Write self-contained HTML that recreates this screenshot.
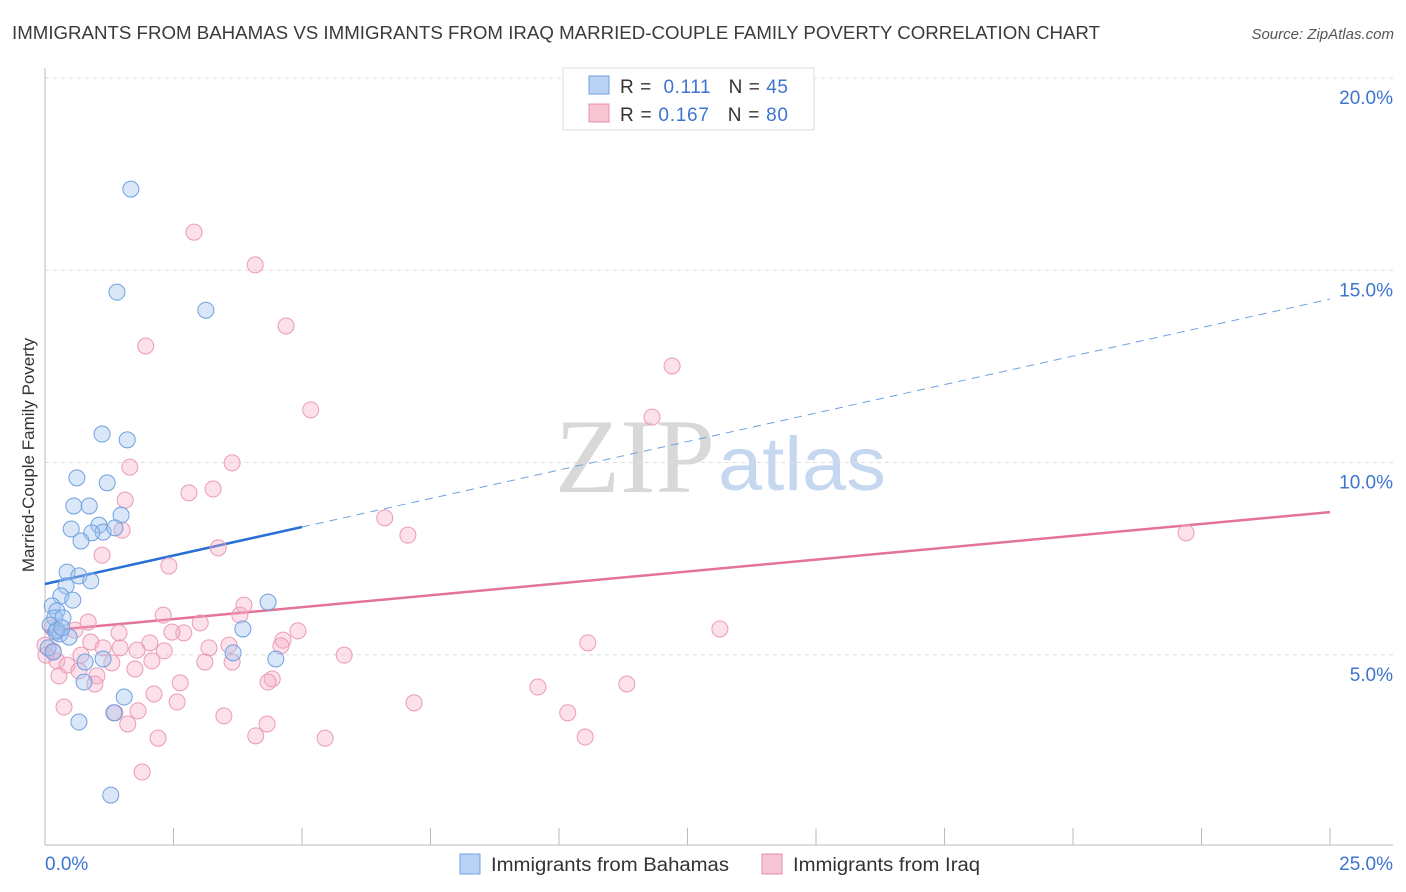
<!DOCTYPE html>
<html><head><meta charset="utf-8"><style>
body{margin:0;background:#fff;font-family:"Liberation Sans",sans-serif;}
svg{display:block}
</style></head><body>
<svg id="chart" width="1406" height="892" xmlns="http://www.w3.org/2000/svg">
<text x="12" y="39" font-size="18.5" fill="#3a3a3a" textLength="1088" lengthAdjust="spacingAndGlyphs">IMMIGRANTS FROM BAHAMAS VS IMMIGRANTS FROM IRAQ MARRIED-COUPLE FAMILY POVERTY CORRELATION CHART</text>
<text x="1394" y="39" font-size="15" fill="#555" font-style="italic" text-anchor="end">Source: ZipAtlas.com</text>
<g>
<text x="555" y="492" font-size="106" font-family="Liberation Serif,serif" fill="#d8d8d8" textLength="160" lengthAdjust="spacingAndGlyphs">ZIP</text>
<text x="718" y="490" font-size="76" fill="#c6d8f0" textLength="168" lengthAdjust="spacingAndGlyphs">atlas</text>
</g>
<g id="grid"></g>
<g id="axes"></g>
<text transform="translate(34,455) rotate(-90)" font-size="17" fill="#333" text-anchor="middle">Married-Couple Family Poverty</text>
<g id="lines"></g>
<g id="pts"></g>
<g>
<rect x="563" y="68" width="251" height="62" fill="#fff" stroke="#ddd"/>
<rect x="589" y="76" width="20" height="18" fill="#b9d3f5" stroke="#6fa0e0"/>
<rect x="589" y="104" width="20" height="18" fill="#f8c5d5" stroke="#e890ab"/>
<text x="620" y="93" font-size="19" fill="#333" textLength="168" lengthAdjust="spacing">R = <tspan fill="#3d74d0">&#160;0.111</tspan>&#160;&#160;&#160;N = <tspan fill="#3d74d0">45</tspan></text>
<text x="620" y="121" font-size="19" fill="#333" textLength="168" lengthAdjust="spacing">R = <tspan fill="#3d74d0">0.167</tspan>&#160;&#160;&#160;N = <tspan fill="#3d74d0">80</tspan></text>
</g>
<g>
<rect x="460" y="854" width="20" height="20" fill="#b9d3f5" stroke="#6fa0e0"/>
<text x="491" y="871" font-size="19" fill="#333" textLength="238" lengthAdjust="spacingAndGlyphs">Immigrants from Bahamas</text>
<rect x="762" y="854" width="20" height="20" fill="#f8c5d5" stroke="#e890ab"/>
<text x="793" y="871" font-size="19" fill="#333" textLength="187" lengthAdjust="spacingAndGlyphs">Immigrants from Iraq</text>
</g>
</svg>
<script>
const yTicks=[5,10,15,20];
const yTickLabels=["5.0%","10.0%","15.0%","20.0%"];
const xTickLabels=["0.0%","25.0%"];
const blueX=[1.67,1.40,3.13,1.11,1.60,0.62,1.21,0.56,0.86,1.48,0.51,1.05,1.13,1.36,0.91,0.70,0.43,0.66,0.89,0.41,0.31,0.54,0.14,0.23,0.19,0.35,0.10,0.21,0.29,0.47,0.06,0.16,0.78,1.13,4.34,3.85,3.66,4.49,1.54,0.76,1.34,0.66,1.28,0.23,0.33];
const blueY=[17.11,14.43,13.96,10.74,10.59,9.60,9.47,8.87,8.87,8.63,8.27,8.37,8.19,8.30,8.17,7.96,7.15,7.05,6.92,6.79,6.53,6.42,6.27,6.14,5.96,5.96,5.77,5.59,5.54,5.46,5.18,5.07,4.81,4.89,6.37,5.67,5.05,4.89,3.90,4.29,3.49,3.25,1.35,5.64,5.70];
const pinkX=[2.90,4.09,4.69,1.96,12.20,5.17,11.81,1.65,3.64,1.56,2.80,3.27,6.61,7.06,1.50,22.20,1.11,3.37,2.41,2.30,3.79,3.87,3.02,0.84,0.14,0.58,1.44,2.70,2.47,2.04,0.89,3.58,3.19,4.63,4.59,4.92,13.13,10.56,0.00,0.16,1.46,1.13,0.70,1.79,2.32,2.08,3.64,3.11,5.82,0.23,1.30,0.43,1.75,0.66,0.27,1.01,2.63,4.42,4.34,0.97,2.12,2.57,7.18,9.59,11.32,0.37,1.81,3.48,1.36,1.61,2.20,4.32,4.10,5.45,10.17,10.51,1.89,0.02];
const pinkY=[15.99,15.14,13.55,13.03,12.51,11.37,11.18,9.88,9.99,9.02,9.21,9.31,8.56,8.11,8.24,8.17,7.59,7.78,7.31,6.03,6.03,6.29,5.83,5.85,5.70,5.64,5.57,5.57,5.59,5.31,5.33,5.25,5.18,5.38,5.23,5.62,5.67,5.31,5.25,5.10,5.18,5.18,4.99,5.12,5.10,4.84,4.81,4.81,4.99,4.84,4.79,4.73,4.63,4.58,4.45,4.45,4.27,4.37,4.29,4.24,3.98,3.77,3.75,4.16,4.24,3.64,3.54,3.41,3.49,3.20,2.83,3.20,2.89,2.83,3.49,2.86,1.95,4.99];
const blueTrend=[6.84,14.25];
const pinkTrend=[5.62,8.71];
const blueSolidEnd=5.0;

const NS="http://www.w3.org/2000/svg";
const X=v=>45+v/25*1285;
const Y=v=>847-v*38.45;
function mk(tag,attrs,parent){const e=document.createElementNS(NS,tag);for(const k in attrs)e.setAttribute(k,attrs[k]);parent.appendChild(e);return e;}
const grid=document.getElementById('grid'),axes=document.getElementById('axes');
yTicks.forEach((t,i)=>{
 const g=mk('line',{x1:45,x2:1393,y1:Y(t),y2:Y(t),stroke:'#ddd','stroke-dasharray':'4,4'},grid);
 
 
 const l=mk('text',{x:1393,y:Y(t)+26,'font-size':19,fill:'#3d74d0','text-anchor':'end'},axes);
 l.textContent=yTickLabels[i];
 
 
});
mk('line',{x1:45,x2:1393,y1:845,y2:845,stroke:'#bbb'},axes);
mk('line',{x1:45,x2:45,y1:68,y2:845,stroke:'#bbb'},axes);
for(let i=0;i<=10;i++){const x=45+i*128.5;mk('line',{x1:x,x2:x,y1:828,y2:845,stroke:'#bbb'},axes);}
const xl0=mk('text',{x:45,y:870,'font-size':19,fill:'#3d74d0'},axes);xl0.textContent=xTickLabels[0];


const xl1=mk('text',{x:1393,y:870,'font-size':19,fill:'#3d74d0','text-anchor':'end'},axes);xl1.textContent=xTickLabels[1];



const pts=document.getElementById('pts');
pinkX.forEach((v,i)=>{const c=mk('circle',{cx:X(v),cy:Y(pinkY[i]),r:8,fill:'rgba(245,170,195,0.35)',stroke:'#eb9ab5','stroke-width':1},pts);
 
 });
blueX.forEach((v,i)=>{const c=mk('circle',{cx:X(v),cy:Y(blueY[i]),r:8,fill:'rgba(160,196,240,0.4)',stroke:'#6fa0e0','stroke-width':1},pts);
 
 });

const lines=document.getElementById('lines');
const by=x=>blueTrend[0]+(blueTrend[1]-blueTrend[0])*x/25;
const l1=mk('line',{x1:X(0),y1:Y(by(0)),x2:X(blueSolidEnd),y2:Y(by(blueSolidEnd)),stroke:'#2a6fd6','stroke-width':2.5},lines);


const l2=mk('line',{x1:X(blueSolidEnd),y1:Y(by(blueSolidEnd)),x2:X(25),y2:Y(by(25)),stroke:'#6fa0e0','stroke-width':1,'stroke-dasharray':'8,6'},lines);


const l3=mk('line',{x1:X(0),y1:Y(pinkTrend[0]),x2:X(25),y2:Y(pinkTrend[1]),stroke:'#e5729a','stroke-width':2.5},lines);


</script>
</body></html>
